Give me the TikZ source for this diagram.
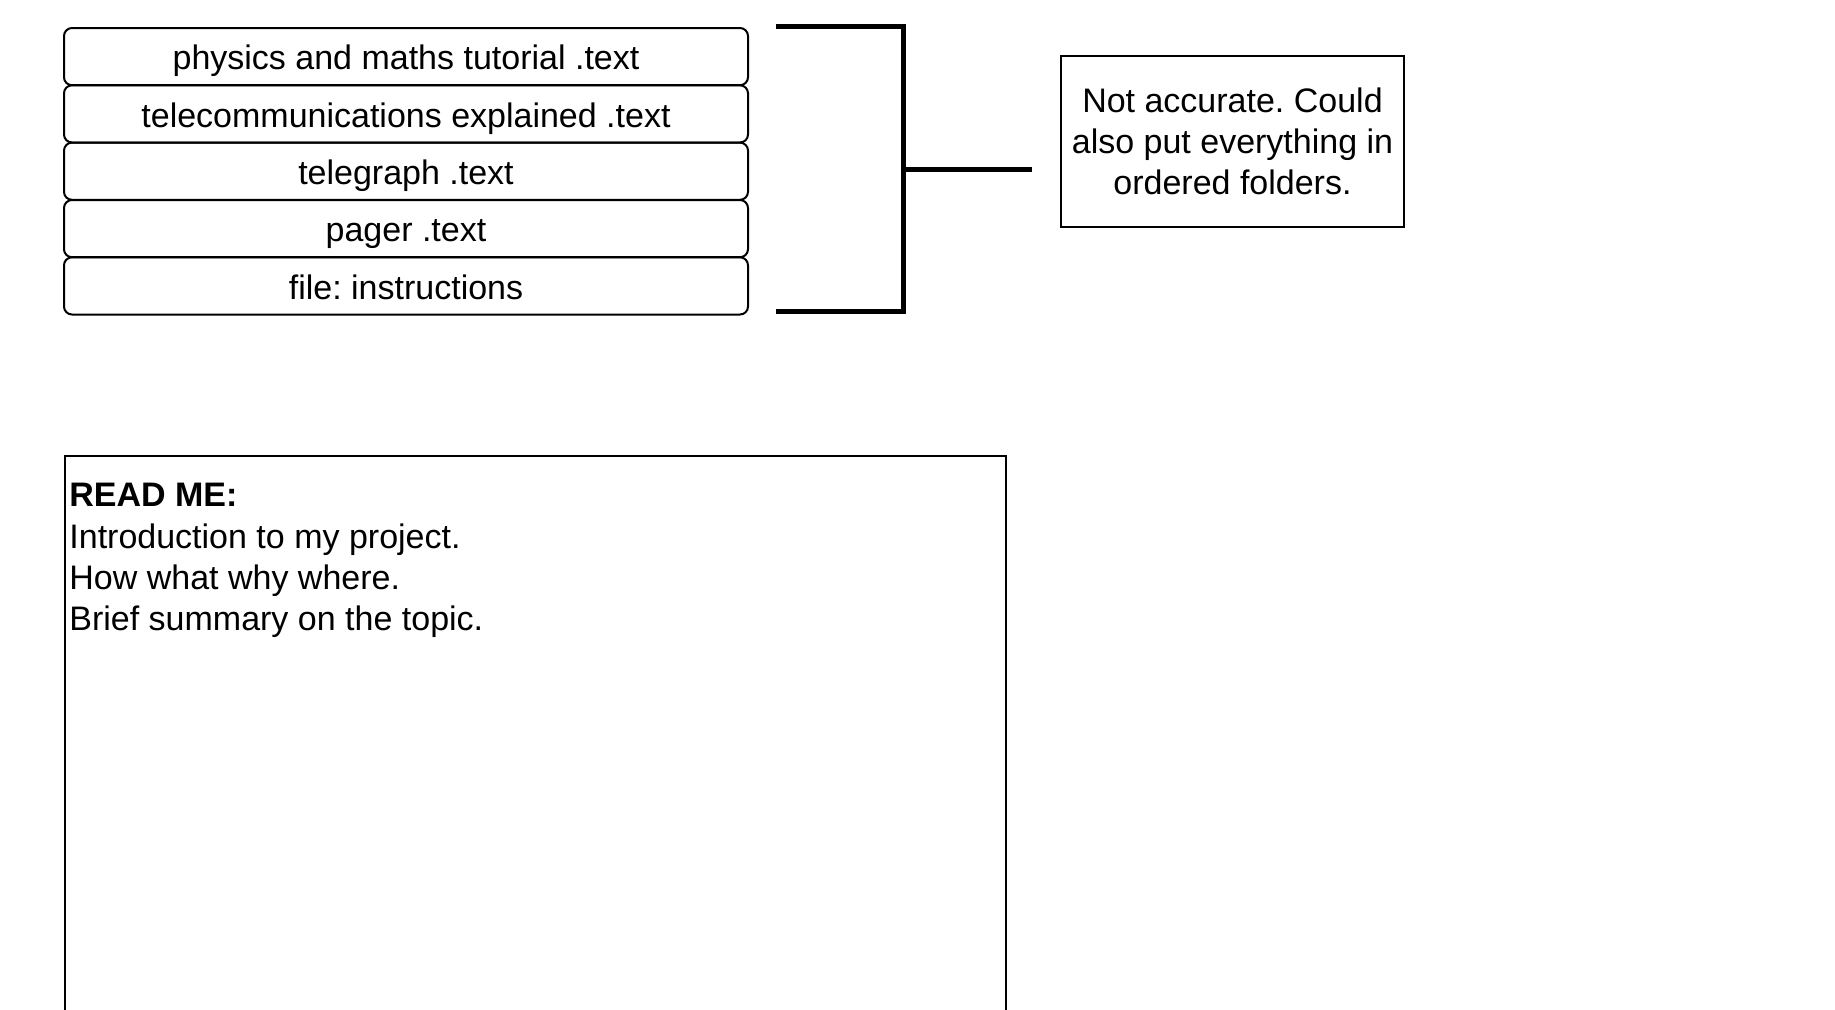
\documentclass[tikz,border=0pt]{standalone}
\usepackage{fontspec}
\setmainfont{Liberation Sans}
\frenchspacing
\begin{document}
\begin{tikzpicture}[x=0.5pt,y=-0.5pt,
  filebox/.style={draw, line width=1pt, rounded corners=4pt, minimum width=342pt, minimum height=28.6pt, inner sep=0pt, text height=13.2pt, text depth=0pt, font=\fontsize{17}{20.6}\selectfont},
  notebox/.style={draw, line width=1pt, minimum width=171.5pt, minimum height=85.5pt, inner sep=0pt, align=center, font=\fontsize{17}{20.6}\selectfont},
  bracketline/.style={line width=2.5pt}]
\useasboundingbox (0,0) rectangle (1835,1009);
\clip (0,0) rectangle (1835,1009);
\node[filebox] (f1) at (406,56.6) {physics and maths tutorial .text};
\node[filebox] (f2) at (406,113.9) {telecommunications explained .text};
\node[filebox] (f3) at (406,171.2) {telegraph .text};
\node[filebox] (f4) at (406,228.6) {pager .text};
\node[filebox] (f5) at (406,285.9) {file: instructions};
\coordinate (bt) at (776,26);
\coordinate (bb) at (776,311);
\coordinate (bm) at (903,169);
\coordinate (be) at (1032,169);
\draw[bracketline] (bt) -- (903,26) -- (903,311) -- (bb);
\draw[bracketline] (bm) -- (be);
\node[notebox] (note) at (1232.5,141.5) {Not accurate. Could\\also put everything in\\ordered folders.};
\node[draw, line width=1pt, minimum width=470.5pt, minimum height=330pt, anchor=north west, inner sep=0pt] (readme) at (64,455) {};
\node[anchor=north west, align=left, inner sep=0pt, font=\fontsize{17}{20.6}\selectfont] (readmetext) at (69,483) {\textbf{READ ME:}\\Introduction to my project.\\How what why where.\\Brief summary on the topic.};
\end{tikzpicture}
\end{document}
